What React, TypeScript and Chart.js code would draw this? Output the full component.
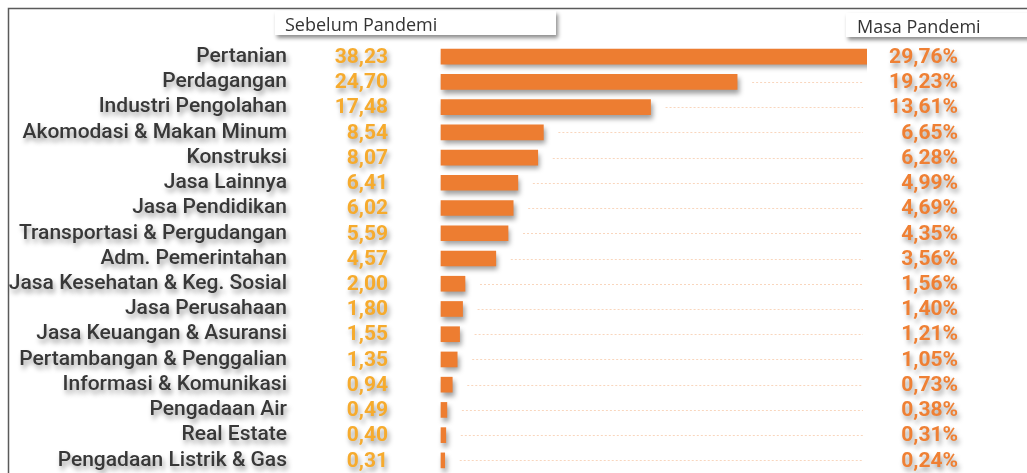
import { useEffect, useRef } from "react";
import Chart from "chart.js/auto";

const categories = [
  "Pertanian",
  "Perdagangan",
  "Industri Pengolahan",
  "Akomodasi & Makan Minum",
  "Konstruksi",
  "Jasa Lainnya",
  "Jasa Pendidikan",
  "Transportasi & Pergudangan",
  "Adm. Pemerintahan",
  "Jasa Kesehatan & Keg. Sosial",
  "Jasa Perusahaan",
  "Jasa Keuangan & Asuransi",
  "Pertambangan & Penggalian",
  "Informasi & Komunikasi",
  "Pengadaan Air",
  "Real Estate",
  "Pengadaan Listrik & Gas",
];

const sebelumPandemi = [38.23, 24.7, 17.48, 8.54, 8.07, 6.41, 6.02, 5.59, 4.57, 2.0, 1.8, 1.55, 1.35, 0.94, 0.49, 0.4, 0.31];
const masaPandemi = [29.76, 19.23, 13.61, 6.65, 6.28, 4.99, 4.69, 4.35, 3.56, 1.56, 1.4, 1.21, 1.05, 0.73, 0.38, 0.31, 0.24];

const headerLeft = "Sebelum Pandemi";
const headerRight = "Masa Pandemi";

const fmt = (v: number) => v.toFixed(2).replace(".", ",");

const W = 1027;
const H = 473;

const setShadow = (ctx: CanvasRenderingContext2D) => {
  ctx.shadowColor = "rgba(0,0,0,0.38)";
  ctx.shadowBlur = 5;
  ctx.shadowOffsetX = 2;
  ctx.shadowOffsetY = 4;
};

const decor = {
  id: "decor",
  beforeDraw(chart: any) {
    const ctx = chart.ctx as CanvasRenderingContext2D;
    ctx.save();
    ctx.fillStyle = "#ffffff";
    ctx.fillRect(0, 0, W, H);
    // frame
    ctx.save();
    ctx.strokeStyle = "#5a5a5a";
    ctx.lineWidth = 1.5;
    ctx.beginPath();
    ctx.moveTo(8.5, H);
    ctx.lineTo(8.5, 8.5);
    ctx.lineTo(W, 8.5);
    ctx.stroke();
    // header boxes
    ctx.shadowColor = "rgba(0,0,0,0.45)";
    ctx.shadowBlur = 4;
    ctx.shadowOffsetX = 2;
    ctx.shadowOffsetY = 3;
    ctx.fillStyle = "#ffffff";
    ctx.fillRect(275, 11, 281, 24);
    ctx.fillRect(846, 13, 200, 24);
    ctx.shadowColor = "transparent";
    ctx.fillStyle = "#333333";
    ctx.font = "18px 'Open Sans'";
    ctx.textAlign = "left";
    ctx.textBaseline = "middle";
    ctx.fillText(headerLeft, 285, 26);
    ctx.fillText(headerRight, 857, 28);
    ctx.restore();
    // shadow for axis labels and bars
    setShadow(ctx);
  },
  beforeDatasetsDraw(chart: any) {
    const ctx = chart.ctx as CanvasRenderingContext2D;
    const xs = chart.scales.x;
    const ys = chart.scales.y;
    ctx.save();
    ctx.shadowColor = "transparent";
    ctx.strokeStyle = "#f9d6bd";
    ctx.lineWidth = 1;
    ctx.setLineDash([2, 2]);
    sebelumPandemi.forEach((v, i) => {
      const x0 = xs.getPixelForValue(v) + 15;
      const x1 = chart.chartArea.right;
      const y = Math.round(ys.getPixelForValue(i)) + 0.5;
      if (x1 - x0 > 4) {
        ctx.beginPath();
        ctx.moveTo(x0, y);
        ctx.lineTo(x1, y);
        ctx.stroke();
      }
    });
    ctx.restore();
  },
  afterDraw(chart: any) {
    const ctx = chart.ctx as CanvasRenderingContext2D;
    const ys = chart.scales.y;
    ctx.font = "bold 21px Roboto";
    ctx.textBaseline = "middle";
    ctx.textAlign = "right";
    sebelumPandemi.forEach((v, i) => {
      ctx.fillStyle = "#f6ab2e";
      ctx.fillText(fmt(v), 388, ys.getPixelForValue(i) + 1);
    });
    masaPandemi.forEach((v, i) => {
      ctx.fillStyle = "#ef8034";
      ctx.fillText(fmt(v) + "%", 958, ys.getPixelForValue(i) + 1);
    });
    ctx.restore();
  },
};

export default function App() {
  const ref = useRef<HTMLCanvasElement | null>(null);
  useEffect(() => {
    if (!ref.current) return;
    const chart = new Chart(ref.current, {
      type: "bar",
      data: {
        labels: categories,
        datasets: [
          {
            data: sebelumPandemi,
            backgroundColor: "#ed7d31",
            borderWidth: 0,
            barThickness: 15,
            clip: { left: false, top: false, right: 4, bottom: false } as any,
          },
        ],
      },
      options: {
        indexAxis: "y",
        animation: false,
        responsive: false,
        events: [],
        layout: { padding: { top: 44, right: 164, bottom: -3, left: 0 } },
        plugins: { legend: { display: false }, tooltip: { enabled: false } },
        scales: {
          x: { display: false, min: 0, max: 35.2 },
          y: {
            afterFit: (s: any) => {
              s.width = 441;
              s.paddingTop = 0;
              s.paddingBottom = 0;
            },
            grid: { display: false, drawTicks: false },
            border: { display: false },
            ticks: {
              autoSkip: false,
              padding: 154,
              color: "#383838",
              font: { family: "Roboto", size: 21, weight: "500" },
            },
          },
        },
      },
      plugins: [decor],
    });
    return () => chart.destroy();
  }, []);
  return (
    <div style={{ position: "absolute", left: 0, top: 0, width: W, height: H }}>
      <canvas ref={ref} width={W} height={H} />
    </div>
  );
}
